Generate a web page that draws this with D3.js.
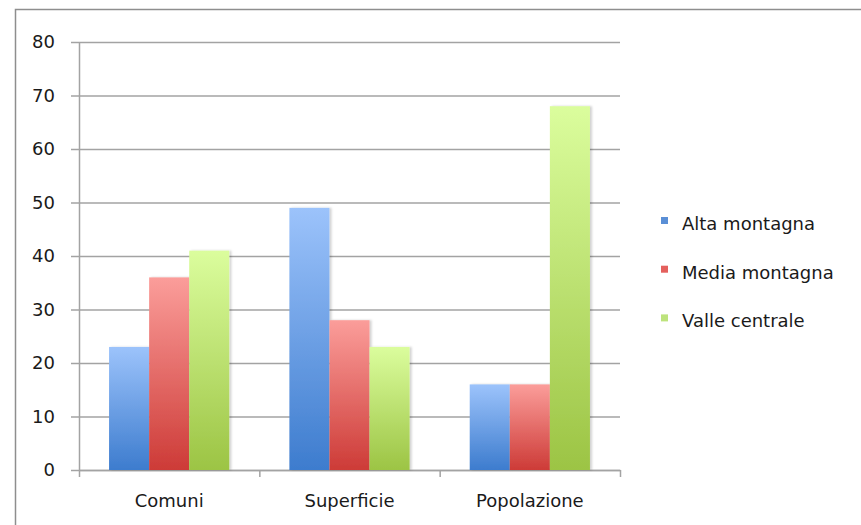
<!DOCTYPE html>
<html>
<head>
<meta charset="utf-8">
<script src="https://cdn.jsdelivr.net/npm/d3@7"></script>
<style>
  body { margin: 0; background: #fff; }
  svg { display: block; font-family: "DejaVu Sans", sans-serif; }
</style>
</head>
<body>
<div id="chart-area"></div>
<script>
const categories = ["Comuni", "Superficie", "Popolazione"]
const seriesNames = ["Alta montagna", "Media montagna", "Valle centrale"]
const altaMontagna = [23, 49, 16]
const mediaMontagna = [36, 28, 16]
const valleCentrale = [41, 23, 68]
const yTicks = [0, 10, 20, 30, 40, 50, 60, 70, 80]

const seriesValues = [altaMontagna, mediaMontagna, valleCentrale]
const colors = [
  { top: "#9cc3fb", bottom: "#3d7cce", key: "#5a8fd6" },
  { top: "#fb9d9a", bottom: "#cd3b37", key: "#e4605d" },
  { top: "#dbfd9d", bottom: "#9cc444", key: "#bde37c" }
]

const W = 861, H = 525
const MARGIN = { LEFT: 79, TOP: 42, RIGHT: 861 - 620, BOTTOM: 525 - 470 }
const WIDTH = W - MARGIN.LEFT - MARGIN.RIGHT
const HEIGHT = H - MARGIN.TOP - MARGIN.BOTTOM
const FONT = "18px"
const TEXT_COLOR = "#1a1a1a"

const svg = d3.select("#chart-area").append("svg")
  .attr("width", W)
  .attr("height", H)

// outer frame
svg.append("rect")
  .attr("x", 15.5).attr("y", 9.5)
  .attr("width", W).attr("height", H)
  .attr("fill", "none")
  .attr("stroke", "#8e8e8e")
  .attr("stroke-width", 1.5)

const defs = svg.append("defs")
colors.forEach((c, i) => {
  const grad = defs.append("linearGradient")
    .attr("id", "grad" + i)
    .attr("x1", 0).attr("y1", 0).attr("x2", 0).attr("y2", 1)
  grad.append("stop").attr("offset", "0%").attr("stop-color", c.top)
  grad.append("stop").attr("offset", "100%").attr("stop-color", c.bottom)
})
const filter = defs.append("filter").attr("id", "shadow")
  .attr("x", "-20%").attr("y", "-5%").attr("width", "150%").attr("height", "110%")
filter.append("feDropShadow")
  .attr("dx", 2).attr("dy", 0).attr("stdDeviation", 1.2)
  .attr("flood-color", "#000").attr("flood-opacity", 0.18)

const g = svg.append("g")
  .attr("transform", `translate(${MARGIN.LEFT}, ${MARGIN.TOP})`)

const y = d3.scaleLinear()
  .domain([0, 80])
  .range([HEIGHT, 0])

const x = d3.scaleBand()
  .domain(categories)
  .range([0, WIDTH])

const xSub = d3.scaleBand()
  .domain(seriesNames)
  .range([0, x.bandwidth()])
  .paddingOuter(0.75)

// grid + y axis
const yAxisCall = d3.axisLeft(y)
  .tickValues(yTicks)
  .tickSize(-WIDTH - 8)
  .tickPadding(16)
const yAxis = g.append("g")
  .attr("class", "y-axis")
  .attr("transform", "translate(-8, 0)")
  .call(yAxisCall)
yAxis.select(".domain").remove()
yAxis.selectAll("line").attr("stroke", "#a3a3a3").attr("stroke-width", 1.5)
yAxis.selectAll("text")
  .attr("font-size", FONT)
  .attr("fill", TEXT_COLOR)
  .attr("font-family", "'DejaVu Sans', sans-serif")

g.append("line")
  .attr("x1", 0.5).attr("x2", 0.5)
  .attr("y1", 0).attr("y2", HEIGHT)
  .attr("stroke", "#a3a3a3").attr("stroke-width", 1.5)

// x axis
const xAxisCall = d3.axisBottom(x).tickSize(0).tickPadding(24)
const xAxis = g.append("g")
  .attr("class", "x-axis")
  .attr("transform", `translate(0, ${HEIGHT})`)
  .call(xAxisCall)
xAxis.select(".domain").attr("stroke", "#a3a3a3").attr("stroke-width", 1.5)
xAxis.selectAll("text")
  .attr("font-size", FONT)
  .attr("fill", TEXT_COLOR)
  .attr("font-family", "'DejaVu Sans', sans-serif")
xAxis.selectAll(".sep")
  .data(d3.range(categories.length + 1))
  .enter().append("line")
  .attr("x1", i => i * x.step() + 0.5)
  .attr("x2", i => i * x.step() + 0.5)
  .attr("y1", 0).attr("y2", 7)
  .attr("stroke", "#a3a3a3").attr("stroke-width", 1.5)

// bars
const groups = g.selectAll(".cat")
  .data(categories)
  .enter().append("g")
  .attr("transform", d => `translate(${x(d)}, 0)`)

groups.selectAll("rect")
  .data((d, ci) => seriesNames.map((s, si) => ({ s, si, v: seriesValues[si][ci] })))
  .enter().append("rect")
  .attr("x", d => xSub(d.s))
  .attr("y", d => y(d.v))
  .attr("width", xSub.bandwidth())
  .attr("height", d => HEIGHT - y(d.v))
  .attr("fill", d => `url(#grad${d.si})`)
  .attr("filter", "url(#shadow)")

// legend
const legend = svg.append("g")
  .attr("transform", "translate(661, 230)")
const items = legend.selectAll("g")
  .data(seriesNames)
  .enter().append("g")
  .attr("transform", (d, i) => `translate(0, ${i * 48.7})`)
items.append("rect")
  .attr("x", 0).attr("y", -13)
  .attr("width", 7).attr("height", 7)
  .attr("fill", (d, i) => colors[i].key)
items.append("text")
  .attr("x", 21).attr("y", 0)
  .attr("font-size", FONT)
  .attr("fill", TEXT_COLOR)
  .text(d => d)
</script>
</body>
</html>
